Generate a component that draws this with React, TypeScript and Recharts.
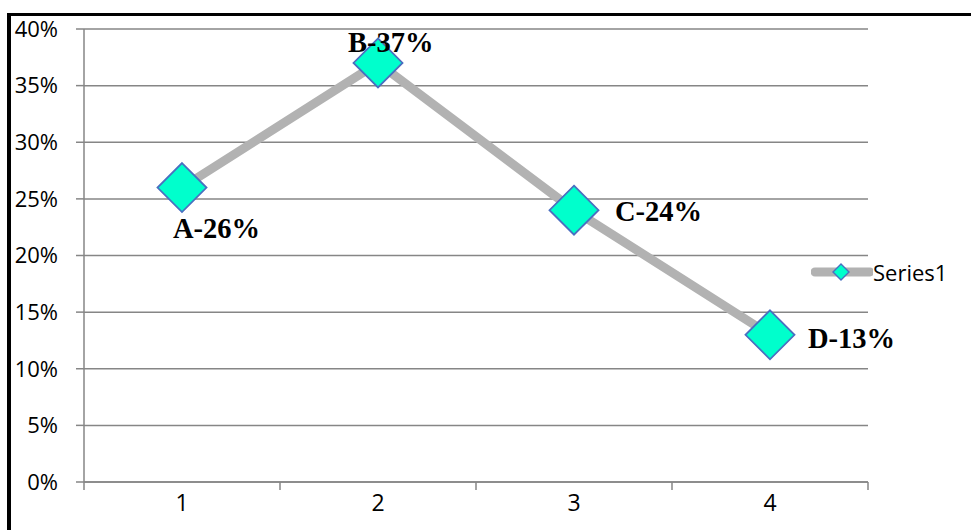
import { LineChart, Line, XAxis, YAxis, CartesianGrid, LabelList } from 'recharts';

const categories = [1, 2, 3, 4];
const letters = ['A', 'B', 'C', 'D'];
const shares = [0.26, 0.37, 0.24, 0.13];
const yTicks = [0, 0.05, 0.1, 0.15, 0.2, 0.25, 0.3, 0.35, 0.4];
// category centres get labels, half steps get the boundary tick marks
const xTicks = [0.5, 1, 1.5, 2, 2.5, 3, 3.5, 4, 4.5];
const seriesName = 'Series1';

const data = categories.map((c, i) => ({ x: c, letter: letters[i], value: shares[i] }));

// where each data label sits relative to its marker
const labelPlacement = [
    { dx: -9, dy: 50 },
    { dx: -30, dy: -11 },
    { dx: 41, dy: 11 },
    { dx: 38, dy: 13 },
];

const AXIS = '#868686';
const LINE = '#b2b2b2';
const MARKER_FILL = '#00ffcc';
const MARKER_STROKE = '#4a6fc0';
const SANS = '"Open Sans", sans-serif';

const pct = (v: number) => `${Math.round(v * 100)}%`;

function Diamond(props: any) {
    const { cx, cy } = props;
    if (cx == null || cy == null) return null;
    const r = 24.5;
    return (
        <polygon
            points={`${cx},${cy - r} ${cx + r},${cy} ${cx},${cy + r} ${cx - r},${cy}`}
            fill={MARKER_FILL}
            stroke={MARKER_STROKE}
            strokeWidth={1.8}
        />
    );
}

function XTick(props: any) {
    const { x, y, payload } = props;
    const v = payload.value;
    if (Number.isInteger(v)) {
        return (
            <text x={x} y={y + 29} textAnchor="middle" fill="#000" fontSize={23} fontFamily={SANS}>
                {v}
            </text>
        );
    }
    return <line x1={x} y1={y} x2={x} y2={y + 8} stroke={AXIS} strokeWidth={1.5} />;
}

function PointLabel(props: any) {
    const { x, y, index } = props;
    const p = labelPlacement[index] ?? { dx: 0, dy: 0 };
    const row = data[index];
    return (
        <text
            x={x + p.dx}
            y={y + p.dy}
            textAnchor="start"
            fontFamily='"Liberation Serif", serif'
            fontWeight="bold"
            fontSize={28.5}
            fill="#000"
        >
            {`${row.letter}-${pct(row.value)}`}
        </text>
    );
}

function LegendBox() {
    return (
        <div style={{ display: 'flex', alignItems: 'center', whiteSpace: 'nowrap' }}>
            <svg width={62} height={30} style={{ display: 'block', flex: 'none' }}>
                <line x1={4} y1={15} x2={59} y2={15} stroke={LINE} strokeWidth={9} strokeLinecap="round" />
                <polygon points="30,7 38,15 30,23 22,15" fill={MARKER_FILL} stroke={MARKER_STROKE} strokeWidth={1.4} />
            </svg>
            <span style={{ fontFamily: SANS, fontSize: 22, lineHeight: '30px', color: '#000' }}>{seriesName}</span>
        </div>
    );
}

export default function App() {
    return (
        <div style={{ position: 'absolute', left: 0, top: 0, width: 971, height: 530, background: '#fff', overflow: 'hidden' }}>
            <LineChart width={971} height={530} data={data} margin={{ top: 29, right: 103, left: 0, bottom: 0 }}>
                <CartesianGrid vertical={false} stroke={AXIS} strokeWidth={1.5} />
                <XAxis
                    dataKey="x"
                    type="number"
                    domain={[0.5, 4.5]}
                    ticks={xTicks}
                    interval={0}
                    height={48}
                    tickSize={0}
                    tickMargin={0}
                    tickLine={false}
                    axisLine={{ stroke: AXIS, strokeWidth: 1.5 }}
                    tick={<XTick />}
                />
                <YAxis
                    domain={[0, 0.4]}
                    ticks={yTicks}
                    interval={0}
                    width={84}
                    tickSize={8}
                    tickMargin={18}
                    tickFormatter={pct}
                    axisLine={{ stroke: AXIS, strokeWidth: 1.5 }}
                    tickLine={{ stroke: AXIS, strokeWidth: 1.5 }}
                    tick={{ fill: '#000', fontSize: 22, fontFamily: SANS }}
                />
                <Line
                    dataKey="value"
                    name={seriesName}
                    stroke={LINE}
                    strokeWidth={9}
                    dot={<Diamond />}
                    activeDot={false}
                    isAnimationActive={false}
                >
                    <LabelList dataKey="value" content={<PointLabel />} />
                </Line>
            </LineChart>
            <div style={{ position: 'absolute', left: 811, top: 257 }}>
                <LegendBox />
            </div>
            <div
                style={{
                    position: 'absolute',
                    left: 7,
                    top: 13,
                    width: 964,
                    height: 517,
                    borderLeft: '4px solid #000',
                    borderTop: '3px solid #000',
                    boxSizing: 'border-box',
                    pointerEvents: 'none',
                }}
            />
        </div>
    );
}
